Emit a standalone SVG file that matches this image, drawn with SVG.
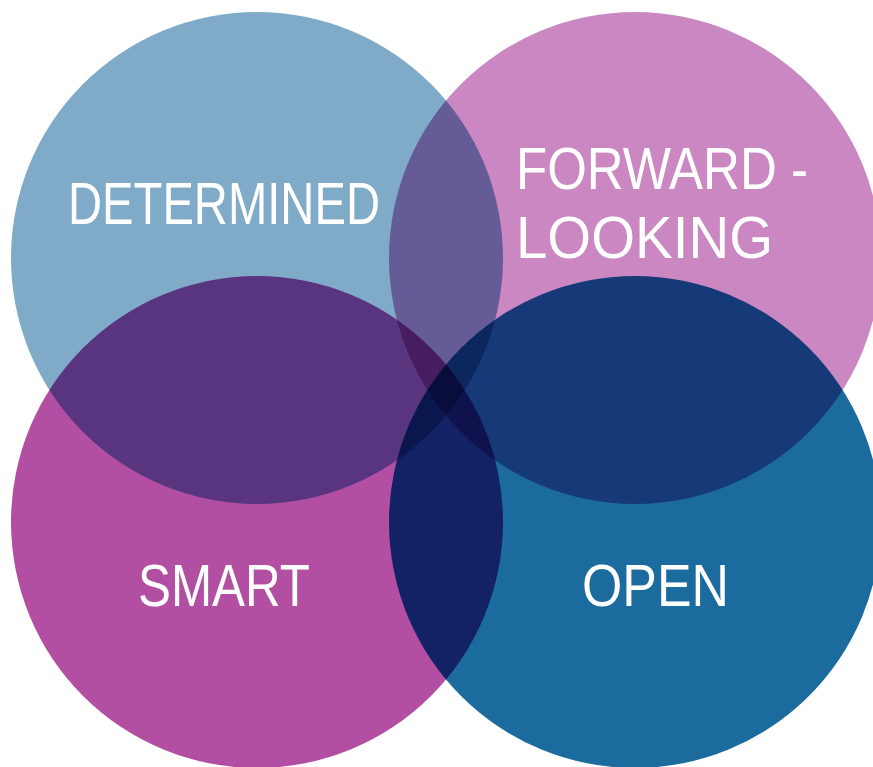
<svg xmlns="http://www.w3.org/2000/svg" width="873" height="767" viewBox="0 0 873 767">
<style>
.c{mix-blend-mode:multiply}
.t{font-family:"Liberation Sans","DejaVu Sans",sans-serif;font-size:59px;fill:#ffffff;lengthAdjust:spacingAndGlyphs}
</style>
<rect x="0" y="0" width="873" height="767" fill="#ffffff"/>
<g id="determined">
<circle class="c" cx="257" cy="258" r="246" fill="#7FABC8"/>
<text class="t" x="68" y="224" textLength="312" lengthAdjust="spacingAndGlyphs">DETERMINED</text>
</g>
<g id="forward-looking">
<circle class="c" cx="635" cy="258" r="246" fill="#CA87C1"/>
<text class="t" x="516" y="189" textLength="292" lengthAdjust="spacingAndGlyphs">FORWARD -</text>
<text class="t" x="516" y="258" textLength="257" lengthAdjust="spacingAndGlyphs">LOOKING</text>
</g>
<g id="smart">
<circle class="c" cx="257" cy="522" r="246" fill="#B24FA3"/>
<text class="t" x="138" y="606" textLength="172" lengthAdjust="spacingAndGlyphs">SMART</text>
</g>
<g id="open">
<circle class="c" cx="635" cy="522" r="246" fill="#1B6B9E"/>
<text class="t" x="582" y="606" textLength="147" lengthAdjust="spacingAndGlyphs">OPEN</text>
</g>
<g id="connectors"/>
</svg>
